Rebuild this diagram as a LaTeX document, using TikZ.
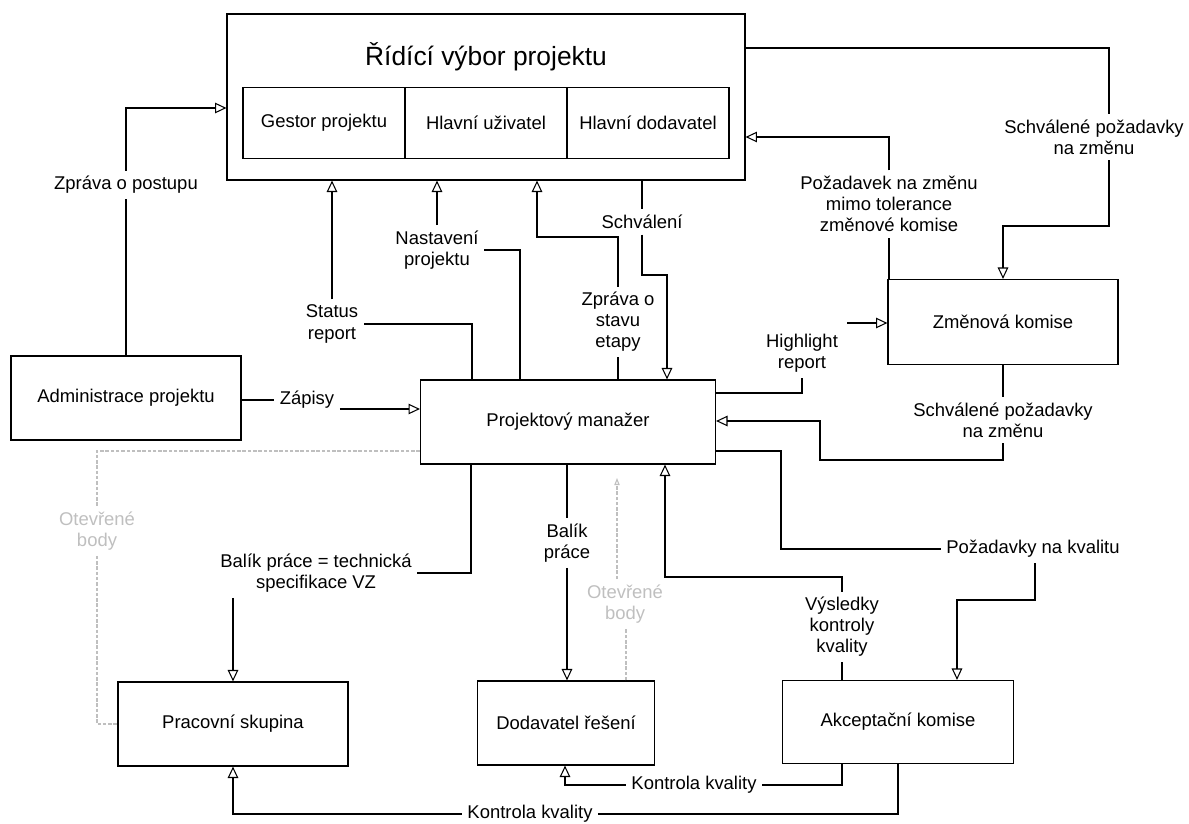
\documentclass[tikz,border=0pt]{standalone}
\usepackage{fontspec}
\setmainfont{Liberation Sans}
\usetikzlibrary{arrows.meta}

\begin{document}
\begin{tikzpicture}[x=0.02cm, y=-0.02cm,
  box/.style={draw, line width=0.7pt, inner sep=2pt, font=\fontsize{10.5}{12}\selectfont},
  lbl/.style={align=center, inner sep=3pt, font=\fontsize{10.5}{12}\selectfont},
  note/.style={lbl, text=gray!50},
  con/.style={line width=0.6pt},
  arr/.style={con, -{Triangle[open, length=6.5pt, width=6pt]}},
  obline/.style={line width=0.6pt, gray!50, dash pattern=on 2pt off 1pt}]

\useasboundingbox (0,0) rectangle (1189,824);

% boxes
\node[box, minimum width=10.36cm, minimum height=3.32cm] (rv) at (486,97) {};
\node[font=\fontsize{15}{18}\selectfont] (rvtitle) at (486,57) {Řídící výbor projektu};
\foreach \x/\txt [count=\i] in {324/Gestor projektu, 486/Hlavní uživatel, 648/Hlavní dodavatel}
  \node[box, minimum width=3.24cm, minimum height=1.42cm] (cell\i) at (\x,123) {\txt};

\node[box, minimum width=4.6cm, minimum height=1.68cm] (ap) at (126,398) {Administrace projektu};
\node[box, minimum width=5.9cm, minimum height=1.68cm] (pm) at (568,422) {Projektový manažer};
\node[box, minimum width=4.6cm, minimum height=1.7cm] (zk) at (1003,322) {Změnová komise};
\node[box, minimum width=4.6cm, minimum height=1.68cm] (ps) at (233,724) {Pracovní skupina};
\node[box, minimum width=3.54cm, minimum height=1.68cm] (dr) at (566,723) {Dodavatel řešení};
\node[box, minimum width=4.62cm, minimum height=1.66cm] (ak) at (898,722) {Akceptační komise};

% labels
\node[lbl] (zp) at (126,185) {Zpráva o postupu};
\node[lbl] (sr) at (332,324) {Status\\report};
\node[lbl] (np) at (437,250) {Nastavení\\projektu};
\node[lbl] (ze) at (618,322) {Zpráva o\\stavu\\etapy};
\node[lbl] (sc) at (642,222) {Schválení};
\node[lbl] (pz) at (889,204) {Požadavek na změnu\\mimo tolerance\\změnové komise};
\node[lbl] (su) at (1094,137) {Schválené požadavky\\na změnu};
\node[lbl] (hl) at (802,353) {Highlight\\report};
\node[lbl] (sl) at (1003,420) {Schválené požadavky\\na změnu};
\node[lbl] (za) at (307,400) {Zápisy};
\node[note] (ob1) at (97,531) {Otevřené\\body};
\node[lbl] (bt) at (316,573) {Balík práce = technická\\specifikace VZ};
\node[lbl] (bp) at (567,543) {Balík\\práce};
\node[note] (ob2) at (625,604) {Otevřené\\body};
\node[lbl] (vk) at (842,627) {Výsledky\\kontroly\\kvality};
\node[lbl] (pk) at (1033,549) {Požadavky na kvalitu};
\node[lbl] (kk1) at (694,785) {Kontrola kvality};
\node[lbl] (kk2) at (530,814) {Kontrola kvality};

\coordinate (hlout) at (847,323);
\coordinate (obtop) at (617,478);

% connectors
\draw[con] (ap) -- (zp);
\draw[arr] (zp) |- (rv.west |- 0,108);
\draw[con] (pm.north -| 472,0) |- (sr);
\draw[arr] (sr) -- (rv.south -| sr);
\draw[con] (pm.north -| 520,0) |- (np);
\draw[arr] (np) -- (rv.south -| np);
\draw[con] (pm.north -| ze) -- (ze);
\draw[arr] (ze) |- (537,237) -- (rv.south -| 537,0);
\draw[con] (rv.south -| sc) -- (sc);
\draw[arr] (sc) |- (667,275) -- (pm.north -| 667,0);
\draw[con] (zk.north -| pz) -- (pz);
\draw[arr] (pz) |- (rv.east |- 0,137);
\draw[con] (rv.east |- 0,48) -| (su.north -| 1109,0);
\draw[arr] (su.south -| 1109,0) |- (1003,226) -- (zk.north);
\draw[con] (pm.east |- 0,393) -| (hl);
\draw[arr] (hlout) -- (zk.west |- hlout);
\draw[con] (zk) -- (sl);
\draw[arr] (sl) |- (820,460) |- (pm.east |- 0,421);
\draw[con] (ap.east |- za) -- (za);
\draw[arr] (za.east |- 0,409) -- (pm.west |- 0,409);

\draw[obline] (pm.west |- 0,451) -| (ob1);
\draw[obline] (ob1) |- (ps);
\draw[con] (pm.south -| 471,0) |- (bt);
\draw[arr] (bt.south -| ps) -- (ps);
\draw[con] (pm.south -| bp) -- (bp);
\draw[arr] (bp) -- (dr.north -| bp);
\draw[obline] (dr.north -| 626,0) -- (ob2.south -| 626,0);
\draw[obline, -{Triangle[open, length=4pt, width=3pt]}] (ob2.north -| 617,0) -- (obtop);

\draw[con] (ak.north -| vk) -- (vk);
\draw[arr] (vk) |- (665,577) -- (pm.south -| 665,0);
\draw[con] (pm.east |- 0,451) -| (781,549) -- (pk);
\draw[arr] (pk.south -| 1035,0) |- (957,600) -- (ak.north -| 957,0);
\draw[con] (ak.south -| 842,0) |- (kk1);
\draw[arr] (kk1) -| (dr.south -| 565,0);
\draw[con] (ak.south -| 898,0) |- (kk2);
\draw[arr] (kk2) -| (ps.south);
\end{tikzpicture}
\end{document}
